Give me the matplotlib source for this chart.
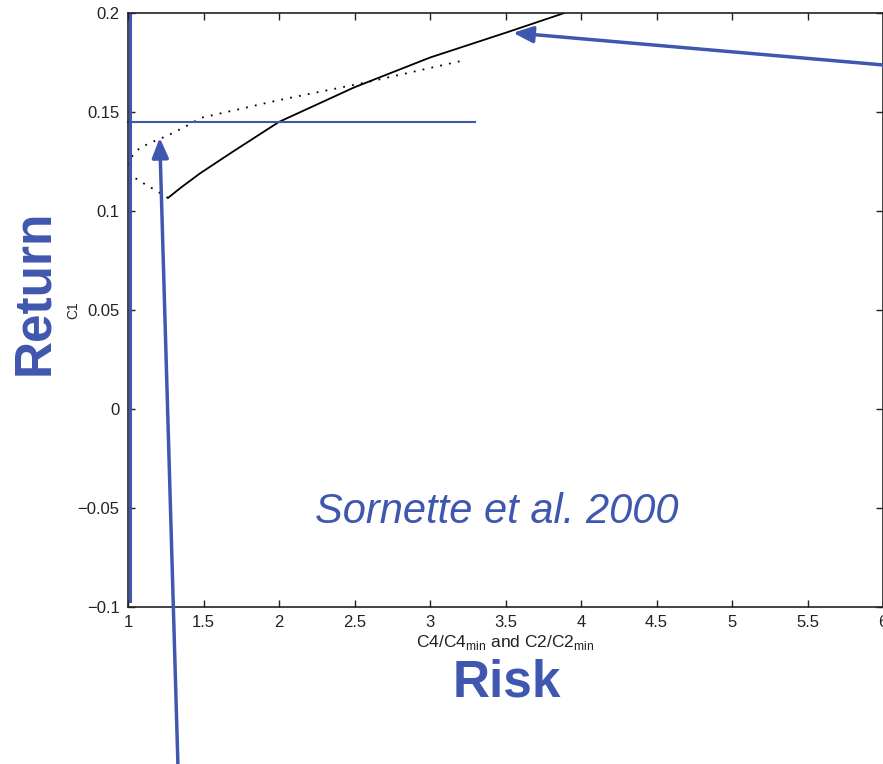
import matplotlib
matplotlib.use("Agg")
import matplotlib.pyplot as plt
import numpy as np

## data ##

# solid branch (C4 risk)
solid_x = [1.265, 1.35, 1.477, 1.695, 2.0, 2.5, 3.0, 3.5, 3.89]
solid_y = [0.1066, 0.1118, 0.119, 0.130, 0.145, 0.1625, 0.1775, 0.190, 0.200]

# dotted branch (C2 risk), a loop round to x=1
dot_x = [1.265, 1.17, 1.08, 1.02, 1.0, 1.02, 1.03, 1.08, 1.166, 1.26, 1.40, 1.48, 2.0, 2.58, 3.22]
dot_y = [0.1066, 0.111, 0.115, 0.118, 0.122, 0.126, 0.128, 0.132, 0.135, 0.138, 0.1434, 0.147, 0.156, 0.165, 0.176]

xticks = [1, 1.5, 2, 2.5, 3, 3.5, 4, 4.5, 5, 5.5, 6]
xticklabels = ['1', '1.5', '2', '2.5', '3', '3.5', '4', '4.5', '5', '5.5', '6']
yticks = [-0.1, -0.05, 0, 0.05, 0.1, 0.15, 0.2]
yticklabels = ['\u22120.1', '\u22120.05', '0', '0.05', '0.1', '0.15', '0.2']

hline_y = 0.145
hline_x = [1.0, 3.3]
vline_x = 1.013
vline_y = [-0.097, 0.2]

arrow1_head = (3.55, 0.190)
arrow1_tail = (1.0, 0.915)     # figure fraction
arrow2_head = (1.21, 0.137)
arrow2_tail = (0.2016, -0.005)  # figure fraction

blue = '#3F57AE'

plt.rcParams['font.family'] = ['Liberation Sans Narrow', 'Liberation Sans', 'DejaVu Sans']
plt.rcParams['mathtext.fontset'] = 'custom'
plt.rcParams['mathtext.rm'] = 'Liberation Sans'

fig = plt.figure(figsize=(8.83, 7.64), dpi=100)
ax = fig.add_axes([128/883, 1-607/764, 755/883, 594/764])

ax.plot(solid_x, solid_y, color='black', lw=1.3)
ax.plot(dot_x, dot_y, color='black', lw=1.3, linestyle=(0, (1, 4)))

ax.set_xlim(1, 6)
ax.set_ylim(-0.1, 0.2)
ax.set_xticks(xticks)
ax.set_xticklabels(xticklabels)
ax.set_yticks(yticks)
ax.set_yticklabels(yticklabels)
ax.tick_params(direction='in', top=True, right=True, length=5, width=1,
               labelsize=12, colors='#222222', pad=6)
for s in ax.spines.values():
    s.set_linewidth(1.2)
    s.set_color('#222222')

ax.set_xlabel('C4/C4$_{\\mathrm{min}}$ and C2/C2$_{\\mathrm{min}}$', fontsize=12.5,
              labelpad=2, color='#222222')
ax.set_ylabel('C1', fontsize=10, labelpad=-2, color='#222222')

# blue overlay lines
ax.plot(hline_x, [hline_y, hline_y], color=blue, lw=1.5, clip_on=False)
ax.plot([vline_x, vline_x], vline_y, color=blue, lw=2.2)

ax.annotate('', xy=arrow1_head, xycoords='data', xytext=arrow1_tail,
            textcoords='figure fraction',
            arrowprops=dict(arrowstyle='-|>,head_length=1.2,head_width=0.5',
                            color=blue, lw=2.5, shrinkA=0, shrinkB=0))
ax.annotate('', xy=arrow2_head, xycoords='data', xytext=arrow2_tail,
            textcoords='figure fraction',
            arrowprops=dict(arrowstyle='-|>,head_length=1.2,head_width=0.5',
                            color=blue, lw=2.5, shrinkA=0, shrinkB=0))

fig.text(35/883, 1-292/764, 'Return', rotation=90, color=blue, fontsize=37,
         fontweight='bold', family='Liberation Sans', ha='center', va='center')
fig.text(507/883, 1-683/764, 'Risk', color=blue, fontsize=37,
         fontweight='bold', family='Liberation Sans', ha='center', va='center')
fig.text(497/883, 1-512/764, 'Sornette et al. 2000', color=blue, fontsize=30,
         style='italic', family='Liberation Sans', ha='center', va='center')

fig.savefig('out.png', dpi=100)
